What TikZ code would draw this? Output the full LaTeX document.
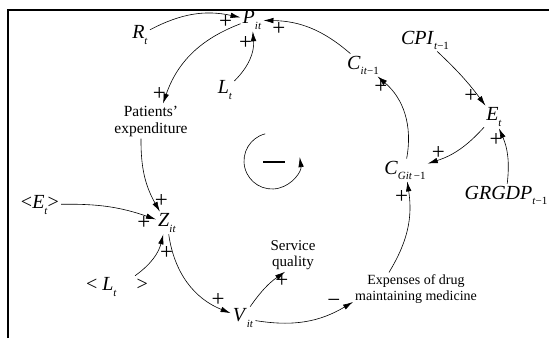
\documentclass[tikz,border=0pt]{standalone}
\usepackage{fontspec}
\setmainfont{Liberation Serif}
\usepackage{tikz}
\usetikzlibrary{arrows.meta, positioning}

% variable with subscript
\newcommand{\vn}[2]{\textit{#1}\raisebox{-0.55ex}{\fontsize{11}{11}\selectfont\textit{#2}}}

\begin{document}
\begin{tikzpicture}[
    x=1pt, y=1pt,
    var/.style={inner sep=2pt, font=\fontsize{20}{20}\selectfont},
    txt/.style={inner sep=2pt, align=center, font=\fontsize{14}{16}\selectfont},
    pol/.style={inner sep=0.5pt, font=\fontsize{23}{23}\selectfont},
    arrow/.style={-{Latex[length=10pt, width=5.5pt]}, line width=0.6pt}
]
\useasboundingbox (0,0) rectangle (549,338);

% Frame
\draw[line width=1.6pt] (8,0) |- (549,328);

% Nodes
\node[var] (pit) at (252,318) {\vn{P}{it}};
\node[var] (rt) at (140,303) {\vn{R}{t}};
\node[var] (lt) at (225,248) {\vn{L}{t}};
\node[txt, font=\fontsize{15.5}{17}\selectfont] (expend) at (151,217) {Patients'\\expenditure};
\node[var] (cit) at (363,273) {\vn{C}{it\textup{−1}}};
\node[var] (cpi) at (425,298) {\vn{CPI}{t\textup{−1}}};
\node[var] (et) at (494,221) {\vn{E}{t}};
\node[var] (cgit) at (405,168) {\vn{C}{Git\,\textup{−1}}};
\node[var] (grgdp) at (506,143) {\vn{GRGDP}{t\textup{−1}}};
\node[txt, font=\fontsize{15}{16}\selectfont] (service) at (293,83) {Service\\quality};
\node[txt] (drug) at (416,49) {Expenses of drug\\maintaining medicine};
\node[var] (vit) at (243,20) {\vn{V}{it}};
\node[var] (zit) at (167,115) {\vn{Z}{it}};
\node[var] (etref) at (40,133) {<\vn{E}{t}>};
\node[var] (ltref) at (117,51) {< \vn{L}{t}\quad >};

% Loop sign
\coordinate (loopc) at (272,177);
\draw[arrow] ([shift={(104:28)}]loopc) arc[start angle=104, end angle=368, radius=28];
\node[inner sep=0pt] (loopsign) at (274,176) {\rule{22pt}{1.8pt}};

% Arrows
\draw[arrow] (rt) to[bend left=20] node[pol, pos=0.85, below] {+} (pit);
\draw[arrow] (lt) to[bend right=25] node[pol, pos=0.8, left] {+} (pit);
\draw[arrow] (pit) to[bend right=25] node[pol, pos=0.92, left] {+} ([xshift=12pt]expend.north);
\draw[arrow] ([xshift=-10pt]expend.south) to[bend right=15] node[pol, pos=0.85, right] {+} (zit);
\draw[arrow] (etref) to[bend left=10] node[pol, pos=0.88, below] {+} (zit);
\draw[arrow] (ltref) to[bend right=20] node[pol, pos=0.62, right=3pt] {+} (zit);
\draw[arrow] (zit) to[bend right=30] node[pol, pos=0.88, above] {+} (vit);
\draw[arrow] (vit) to[bend left=10] node[pol, pos=0.7, right=2pt] {+} ([xshift=-8pt]service.south);
\draw[arrow] (vit) to[bend right=20] node[pol, pos=0.88, above left] {−} ([yshift=-13pt]drug.west);
\draw[arrow] ([xshift=-27pt]drug.north) to[bend right=20] node[pol, pos=0.85, left] {+} (cgit);
\draw[arrow] (cgit) to[bend right=30] node[pol, pos=0.85, left] {+} (cit);
\draw[arrow] (cit) to[bend right=20] node[pol, pos=0.85, below] {+} (pit);
\draw[arrow] (cpi) to[bend left=5] node[pol, pos=0.85, left] {+} (et);
\draw[arrow] (et) to[bend left=15] node[pol, pos=0.85, above] {+} (cgit);
\draw[arrow] (grgdp) to[bend right=15] node[pol, pos=0.8, left] {+} (et);

\end{tikzpicture}
\end{document}
